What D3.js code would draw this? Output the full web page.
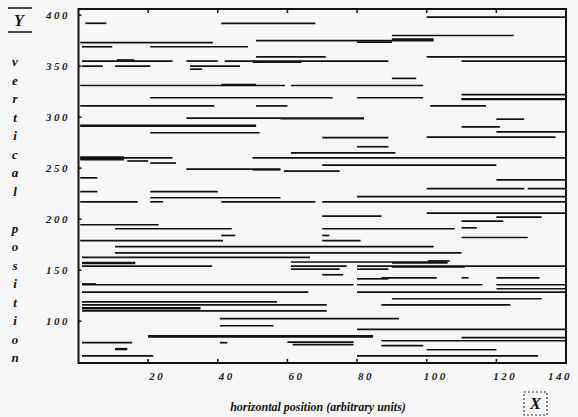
<!DOCTYPE html>
<html>
<head>
<meta charset="utf-8">
<script src="https://cdn.jsdelivr.net/npm/d3@7"></script>
<style>
body { margin: 0; background: #f7f7f7; }
svg { display: block; }
.tick-label { font-family: "Liberation Serif", serif; font-style: italic; font-weight: bold; font-size: 11px; fill: #222; letter-spacing: 2.5px; }
.title { font-family: "Liberation Serif", serif; font-style: italic; font-weight: bold; fill: #111; }
</style>
</head>
<body>
<div id="chart"></div>
<script>
var xTicks = [20, 40, 60, 80, 100, 120, 140];
var yTicks = [100, 150, 200, 250, 300, 350, 400];
var yLetters = ["v", "e", "r", "t", "i", "c", "a", "l", "", "p", "o", "s", "i", "t", "i", "o", "n"];

// one entry per horizontal segment: height, left end, right end
var lineY = [398, 392, 392, 380, 376.5, 375, 373.5, 373, 369, 369,
    359, 359, 355, 355, 355, 355, 354, 356, 350, 350,
    350, 347, 338, 331, 331, 332, 322, 319, 319, 318,
    317.3, 311, 311, 311, 299, 298.4, 298, 292, 291.2, 290.5,
    285.6, 284.7, 280.5, 280, 271, 265, 260.8, 260, 259.2, 258.4,
    257, 260, 255, 253, 249, 248.4, 247, 240.5, 238.6, 230,
    230, 227, 227, 222, 221, 217, 217, 217, 217, 206,
    203, 202, 198, 194.5, 190.6, 190.6, 191.5, 184, 184, 182,
    179, 179, 173, 167, 162.5, 159, 157.5, 156.7, 158, 157.2,
    154, 154, 154, 153.3, 151, 151, 145.5, 142.5, 142.5, 142.5,
    141.5, 135.7, 136.5, 135.7, 135.7, 131.8, 128.5, 128.5, 122, 119,
    116, 116, 113, 112.3, 110, 102.4, 95.5, 92, 85.5, 84.7,
    83.8, 80.8, 79.5, 77, 78.9, 78.9, 76, 73, 72.3, 72,
    66, 66];
var lineStart = [100, 2, 41, 90, 90, 51, 80, 0.5, 1, 20.6,
    51, 100, 1, 31, 42, 110, 50, 11, 1, 10.5,
    32, 32, 90, 0.5, 61, 41, 110, 20.6, 80, 110,
    110, 0.5, 51, 101, 31, 58, 120, 0.5, 0.5, 110,
    120, 20.6, 100, 70, 80, 61, 0.5, 0.5, 0.5, 0.5,
    14, 50, 20.6, 70, 31, 50, 59, 0.5, 120, 100,
    129, 0.5, 20.6, 80, 20.6, 70, 0.5, 20.6, 41, 100,
    70, 120, 110, 0.5, 10.5, 70, 110, 41, 70, 110,
    0.5, 70, 10.5, 10.5, 1, 100.3, 1, 1, 61, 90,
    1, 61, 80, 90, 61, 80, 70, 87, 110, 120,
    80, 1, 1, 80, 120, 120, 1, 80, 90, 1,
    1, 87, 1, 1, 1, 40.6, 40.6, 80, 20, 20,
    110, 87, 60, 61.5, 1, 40.6, 87, 10.5, 10.5, 100,
    1, 80];
var lineEnd = [140, 8, 68, 125, 102, 102, 90, 38.6, 9.7, 48.7,
    71, 140, 27, 40, 89, 140, 64, 16, 7, 20.6,
    46.4, 35.5, 97, 59.3, 99, 51, 140, 73, 99, 140,
    140, 39, 60, 117, 82, 82, 128, 51, 51, 121,
    140, 52, 137, 89, 89, 91, 13, 27, 13, 13,
    20, 140, 28, 120, 58, 58, 75, 5.4, 140, 128,
    140, 5.4, 40, 140, 58, 140, 17, 24.3, 68, 140,
    87, 133, 122, 23, 44, 108, 114.4, 45, 72, 129,
    41.5, 81, 102, 110, 66.5, 106.6, 16.3, 16.3, 106, 106,
    38.4, 77, 140, 111, 75, 89, 76, 102.9, 112, 132.4,
    89, 79, 5, 116, 140, 140, 66, 140, 133, 57,
    71.3, 124, 35, 35, 71.3, 92, 56, 140, 84.6, 84.6,
    140, 140, 79, 79, 15.4, 42.7, 99, 14, 14, 120,
    21.5, 132];

var width = 578;
var height = 417;

var svg = d3.select("#chart")
    .append("svg")
    .attr("width", width)
    .attr("height", height);

svg.append("rect")
    .attr("width", width)
    .attr("height", height)
    .attr("fill", "#f7f7f7");

var x = d3.scaleLinear().domain([0, 140]).range([78.5, 566]);
var y = d3.scaleLinear().domain([59, 406]).range([363, 9]);

var segments = lineY.map(function (v, i) {
    return { y: v, x0: lineStart[i], x1: lineEnd[i] };
});

svg.selectAll("line.seg")
    .data(segments)
    .enter()
    .append("line")
    .attr("class", "seg")
    .attr("x1", function (d) { return x(d.x0); })
    .attr("x2", function (d) { return x(d.x1); })
    .attr("y1", function (d) { return y(d.y); })
    .attr("y2", function (d) { return y(d.y); })
    .attr("stroke", "#111")
    .attr("stroke-width", 1.7);

// frame
svg.append("rect")
    .attr("x", x(0))
    .attr("y", y(406))
    .attr("width", x(140) - x(0))
    .attr("height", y(59) - y(406))
    .attr("fill", "none")
    .attr("stroke", "#111")
    .attr("stroke-width", 2);

// small inward ticks on top and bottom
xTicks.forEach(function (t) {
    svg.append("line")
        .attr("x1", x(t)).attr("x2", x(t))
        .attr("y1", y(59)).attr("y2", y(59) - 4)
        .attr("stroke", "#111").attr("stroke-width", 1.5);
    svg.append("line")
        .attr("x1", x(t)).attr("x2", x(t))
        .attr("y1", y(406)).attr("y2", y(406) + 4)
        .attr("stroke", "#111").attr("stroke-width", 1.5);
});
yTicks.forEach(function (t) {
    svg.append("line")
        .attr("x1", x(0)).attr("x2", x(0) + 3)
        .attr("y1", y(t)).attr("y2", y(t))
        .attr("stroke", "#111").attr("stroke-width", 1.5);
});

svg.selectAll("text.xt")
    .data(xTicks)
    .enter()
    .append("text")
    .attr("class", "tick-label")
    .attr("x", function (d) { return Math.min(x(d) + 9, 560); })
    .attr("y", 380)
    .attr("text-anchor", "middle")
    .text(function (d) { return d; });

svg.selectAll("text.yt")
    .data(yTicks)
    .enter()
    .append("text")
    .attr("class", "tick-label")
    .attr("x", 70)
    .attr("y", function (d) { return y(d) + 4; })
    .attr("text-anchor", "end")
    .text(function (d) { return d; });

// x axis title and boxed X
svg.append("text")
    .attr("class", "title")
    .attr("x", 318)
    .attr("y", 411)
    .attr("text-anchor", "middle")
    .style("font-size", "12px")
    .text("horizontal position (arbitrary units)");

svg.append("rect")
    .attr("x", 524).attr("y", 392)
    .attr("width", 23).attr("height", 23)
    .attr("fill", "none")
    .attr("stroke", "#333")
    .attr("stroke-width", 1.2)
    .attr("stroke-dasharray", "2,2");

svg.append("text")
    .attr("class", "title")
    .attr("x", 535.5)
    .attr("y", 409)
    .attr("text-anchor", "middle")
    .style("font-size", "17px")
    .text("X");

// Y label with over/under bars and vertical letters
svg.append("line").attr("x1", 8).attr("x2", 32).attr("y1", 8).attr("y2", 8)
    .attr("stroke", "#111").attr("stroke-width", 1.5);
svg.append("line").attr("x1", 8).attr("x2", 32).attr("y1", 32).attr("y2", 32)
    .attr("stroke", "#111").attr("stroke-width", 1.5);
svg.append("text")
    .attr("class", "title")
    .attr("x", 19)
    .attr("y", 26)
    .attr("text-anchor", "middle")
    .style("font-size", "16px")
    .text("Y");

svg.selectAll("text.yl")
    .data(yLetters)
    .enter()
    .append("text")
    .attr("class", "title")
    .attr("x", 15)
    .attr("y", function (d, i) { return 66 + i * 18.5; })
    .attr("text-anchor", "middle")
    .style("font-size", "13px")
    .text(function (d) { return d; });
</script>
</body>
</html>
